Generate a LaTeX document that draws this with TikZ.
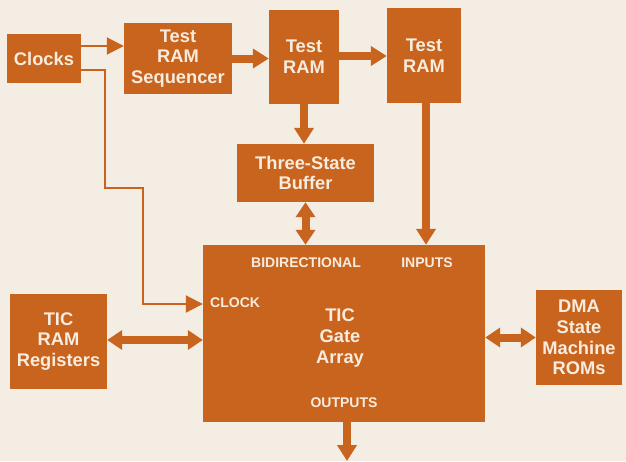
\documentclass[tikz,border=0pt]{standalone}
\usepackage{fontspec}
\setmainfont{Liberation Sans}
\usetikzlibrary{arrows.meta}
\definecolor{boxc}{RGB}{200,100,30}
\definecolor{bgc}{RGB}{243,237,228}
\definecolor{txtc}{RGB}{248,236,222}
\tikzset{
  blk/.style={fill=boxc, draw=none, text=txtc, align=center, inner sep=0pt,
    font=\fontsize{18.3}{20.7}\selectfont\bfseries},
  lbl/.style={text=txtc, inner sep=0pt, font=\fontsize{14}{16}\selectfont\bfseries},
  thickarr/.style={draw=boxc, line width=8pt, -{Triangle[length=16pt,width=19pt]}},
  thickdbl/.style={draw=boxc, line width=8pt, {Triangle[length=15pt,width=19pt]}-{Triangle[length=15pt,width=19pt]}},
  thinarr/.style={draw=boxc, line width=2pt, -{Triangle[length=17pt,width=17pt]}},
}
\begin{document}
\begin{tikzpicture}[x=1pt,y=-1pt]
\fill[bgc] (0,0) rectangle (626,461);
\useasboundingbox (0,0) rectangle (626,461);

\node[blk, minimum width=74pt, minimum height=49pt] (clk) at (44,58.5) {Clocks};
\node[blk, minimum width=108pt, minimum height=71pt] (seq) at (178,58.5) {Test\\RAM\\Sequencer};
\node[blk, minimum width=70pt, minimum height=94pt] (ram1) at (304,57) {Test\\RAM};
\node[blk, minimum width=74pt, minimum height=95pt] (ram2) at (424,55.5) {Test\\RAM};
\node[blk, minimum width=137pt, minimum height=58pt] (buf) at (305.5,173) {Three-State\\Buffer};
\node[blk, minimum width=282pt, minimum height=177pt] (gate) at (344,333.5) {};
\node[blk, minimum width=97pt, minimum height=95pt] (regs) at (58.5,341.5) {TIC\\RAM\\Registers};
\node[blk, minimum width=86pt, minimum height=95pt] (dma) at (579,337.5) {DMA\\State\\Machine\\ROMs};

\node[lbl] (lbid) at (306,263) {BIDIRECTIONAL};
\node[lbl] (linp) at (427,263) {INPUTS};
\node[lbl, anchor=west] (lclk) at (210,303) {CLOCK};
\node[blk, fill=none] (ltic) at (340,338) {TIC\\Gate\\Array};
\node[lbl] (lout) at (344,403) {OUTPUTS};

\coordinate (k1) at (105,188);
\coordinate (k2) at (143,304);
\coordinate (out) at (347,461);

\draw[thinarr] ([yshift=12.5pt]clk.east) coordinate (c1) -- (c1 -| seq.west);
\draw[thinarr] ([yshift=-11.5pt]clk.east) -| (k1) -- (k1 -| k2) -- (k2) -- (k2 -| gate.west);
\draw[thickarr] (seq.east) -- (seq.east -| ram1.west);
\draw[thickarr] ([yshift=1pt]ram1.east) coordinate (c2) -- (c2 -| ram2.west);
\draw[thickarr] (ram1.south) -- (ram1.south |- buf.north);
\draw[thickdbl] (buf.south) -- (buf.south |- gate.north);
\draw[thickarr] ([xshift=2pt]ram2.south) coordinate (c3) -- (c3 |- gate.north);
\draw[thickdbl] ([yshift=1.5pt]regs.east) coordinate (c4) -- (c4 -| gate.west);
\draw[thickdbl] (dma.west) -- (dma.west -| gate.east);
\draw[thickarr] ([xshift=3pt]gate.south) -- (out);
\end{tikzpicture}
\end{document}
